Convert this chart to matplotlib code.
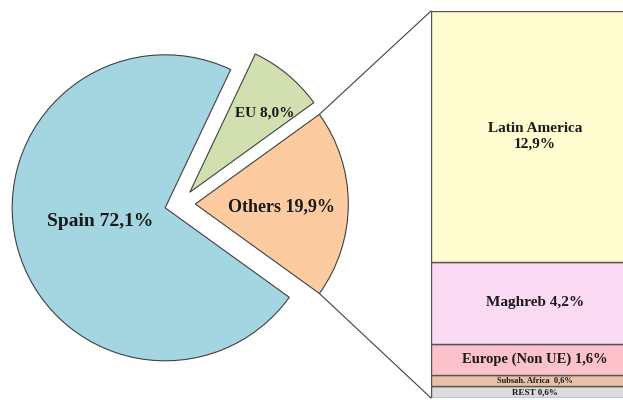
import matplotlib
matplotlib.use("Agg")
import matplotlib.pyplot as plt
from matplotlib.patches import ConnectionPatch
import numpy as np

# Data
pie_labels = ["Others 19,9%", "EU 8,0%", "Spain 72,1%"]
pie_values = [19.9, 8.0, 72.1]
pie_colors = ["#FCCCA0", "#D2E0B0", "#A4D6E2"]

bar_labels = ["REST 0,6%", "Subsah. Africa  0,6%", "Europe (Non UE) 1,6%", "Maghreb 4,2%", "Latin America\n12,9%"]
bar_values = [0.6, 0.6, 1.6, 4.2, 12.9]
bar_colors = ["#DCDCDC", "#E9C2A6", "#FDC1CC", "#FBDAF4", "#FFFDD0"]
bar_fontsizes = [6.5, 6, 10.5, 11, 11]

plt.rcParams['font.family'] = ['Liberation Serif', 'DejaVu Serif']

fig = plt.figure(figsize=(6.23, 4.0), dpi=100)
ax = fig.add_axes([0, 0, 1, 1])

cx, cy, r = 180, 196, 153
expl = 0.1 * r
wedges, _ = ax.pie(pie_values, colors=pie_colors, startangle=-35.8, counterclock=True,
                   explode=[expl, expl, expl], center=(cx, cy), radius=r,
                   wedgeprops=dict(edgecolor="#404040", linewidth=0.8))
ax.set_xlim(0, 623)
ax.set_ylim(0, 400)
ax.set_aspect('equal')
ax.axis('off')

label_pos = [(282, 193), (265, 287), (100, 178)]
label_sizes = [13, 11, 14]
for (x, y), t, s in zip(label_pos, pie_labels, label_sizes):
    ax.text(x, y, t, ha='center', va='center', fontsize=s, fontweight='bold', color='#1a1a1a')

# Bar of pie
ax2 = fig.add_axes([431 / 623, 2 / 400, 208 / 623, 387 / 400])
bottom = 0
for v, c, lab, fs in zip(bar_values, bar_colors, bar_labels, bar_fontsizes):
    ax2.bar(0.5, v, width=1.0, bottom=bottom, color=c, edgecolor="#555555", linewidth=1.0)
    ax2.text(0.5, bottom + v / 2, lab, ha='center', va='center', fontsize=fs,
             fontweight='bold', color='#1a1a1a', linespacing=1.3)
    bottom += v
ax2.set_xlim(0, 1)
ax2.set_ylim(0, sum(bar_values))
ax2.axis('off')

# Connection lines from Others wedge to bar
w = wedges[0]
wc = w.center
for theta, ybar in [(w.theta2, sum(bar_values)), (w.theta1, 0)]:
    px = wc[0] + w.r * np.cos(np.radians(theta))
    py = wc[1] + w.r * np.sin(np.radians(theta))
    con = ConnectionPatch(xyA=(0, ybar), coordsA=ax2.transData,
                          xyB=(px, py), coordsB=ax.transData,
                          color="#404040", linewidth=0.8)
    fig.add_artist(con)

fig.savefig("out.png", dpi=100)
